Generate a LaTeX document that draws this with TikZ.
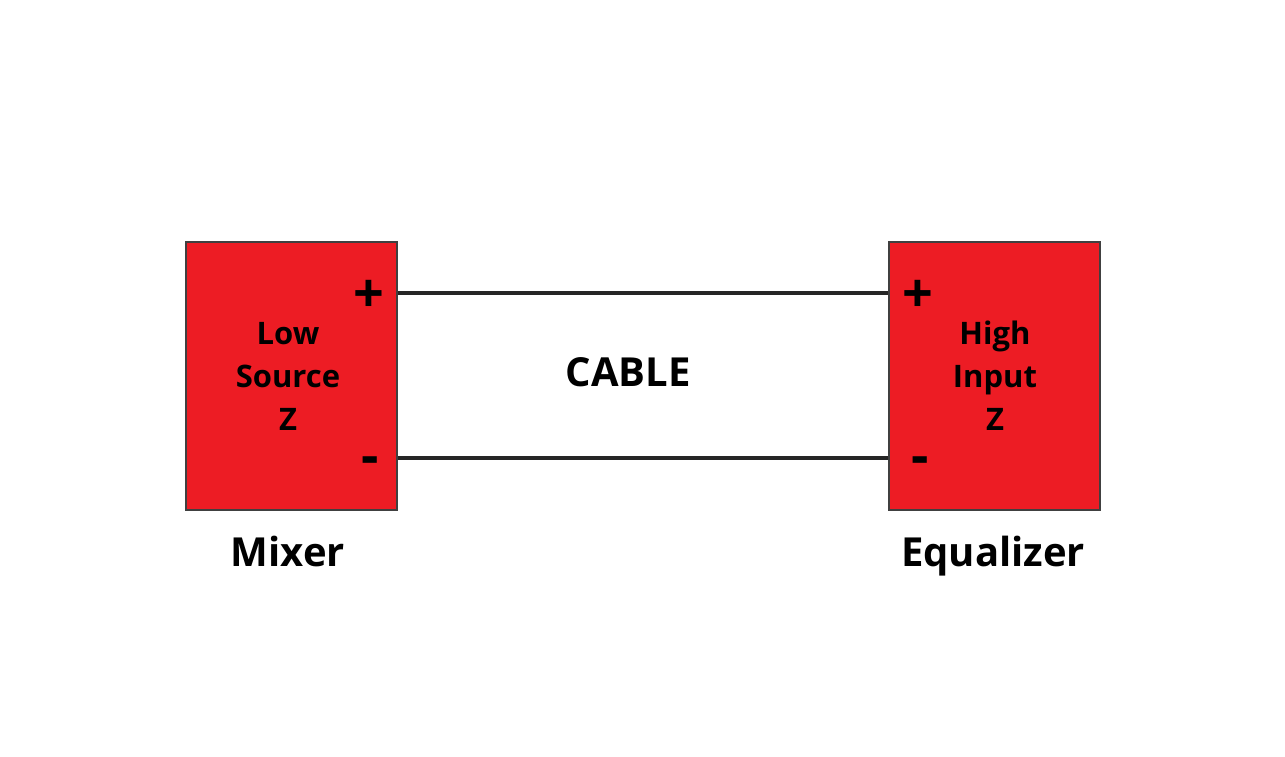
\documentclass[tikz,border=0pt]{standalone}
\usepackage{fontspec}
\setmainfont{Open Sans}
\begin{document}
\begin{tikzpicture}[x=0.5pt,y=-0.5pt,
  box/.style={draw=black!75,line width=1pt,fill=boxred,minimum width=105.5pt,minimum height=134pt,inner sep=0pt},
  lbl/.style={font=\fontsize{15.5}{21.5}\selectfont\bfseries,align=center,inner sep=0pt},
  big/.style={font=\fontsize{20}{22}\selectfont\bfseries,inner sep=0pt},
  sign/.style={font=\fontsize{27}{30}\selectfont\bfseries,inner sep=0pt},
  wire/.style={draw=black!85,line width=2pt}]
\definecolor{boxred}{HTML}{ED1C24}
\useasboundingbox (0,0) rectangle (1285,756);
\node[box] (mixer) at (291.5,376) {};
\node[box] (eq) at (994.5,376) {};
\node[lbl] (mtxt) at (288,376) {Low\\Source\\Z};
\node[lbl] (etxt) at (995,376) {High\\Input\\Z};
\node[sign] (mplus) at (369,296) {+};
\node[sign] (mminus) at (370,466) {-};
\node[sign] (eplus) at (918,296) {+};
\node[sign] (eminus) at (920,466) {-};
\coordinate (mp) at (mixer.east |- 0,293);
\coordinate (mn) at (mixer.east |- 0,458);
\coordinate (ep) at (eq.west |- 0,293);
\coordinate (en) at (eq.west |- 0,458);
\draw[wire] (mp) -- (ep);
\draw[wire] (mn) -- (en);
\node[big] (cable) at (628,372) {CABLE};
\node[big,anchor=base] (mixlbl) at (288,566) {Mixer};
\node[big,anchor=base] (eqlbl) at (993,566) {Equalizer};
\end{tikzpicture}
\end{document}
